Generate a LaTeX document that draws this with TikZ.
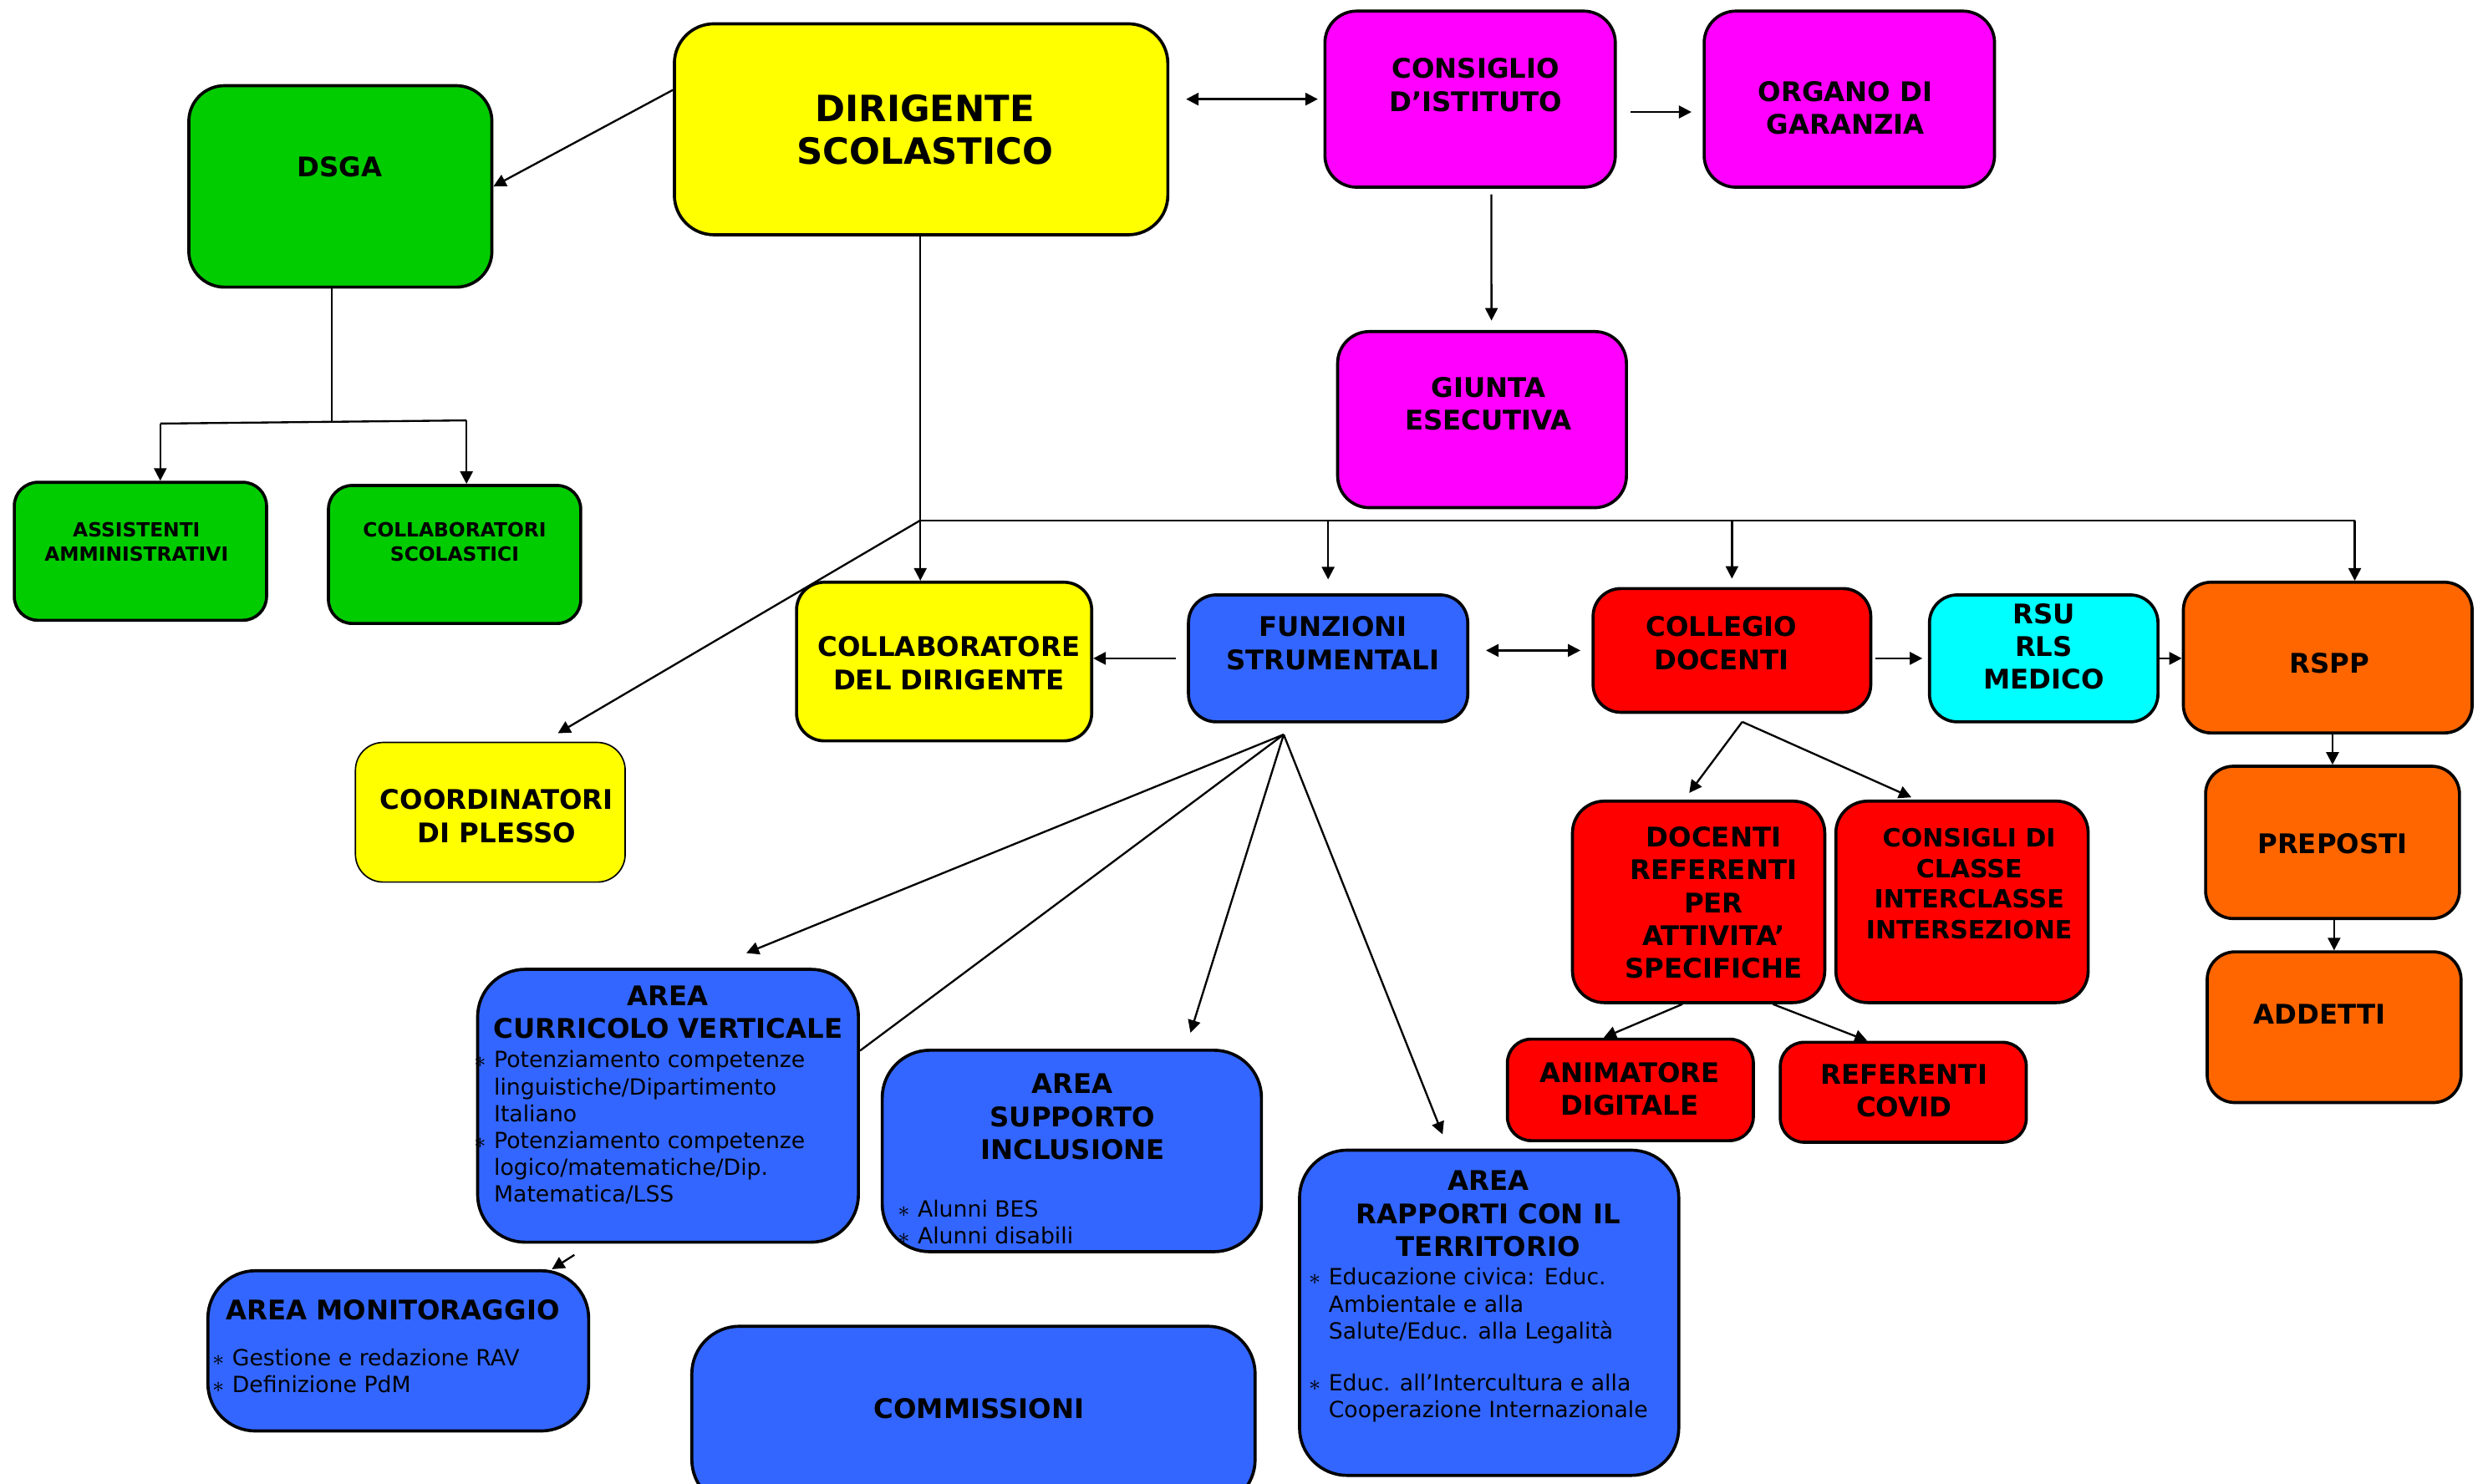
\documentclass[tikz,border=0pt]{standalone}
\usepackage{fontspec}
\setmainfont{DejaVu Sans}
\usepackage{xcolor}
\usepackage{tikz}
\usetikzlibrary{arrows.meta,fit}
\definecolor{yel}{HTML}{FFFF00}
\definecolor{grn}{HTML}{00CC00}
\definecolor{mag}{HTML}{FF00FF}
\definecolor{blu}{HTML}{3366FF}
\definecolor{rd}{HTML}{FF0000}
\definecolor{cya}{HTML}{00FFFF}
\definecolor{ora}{HTML}{FF6600}
\newcommand{\bstar}{\llap{$\ast$\hspace{0.1cm}}}

\begin{document}
\begin{tikzpicture}[x=0.02cm,y=-0.02cm,
    box/.style={draw=black,line width=1.1pt,rounded corners=0.35cm,inner sep=0pt},
    lbl/.style={inner sep=0pt,align=center,font=\bfseries\fontsize{9.7}{11.8}\selectfont},
    big/.style={lbl,font=\bfseries\fontsize{13}{15.3}\selectfont},
    sml/.style={lbl,font=\bfseries\fontsize{7}{8.5}\selectfont},
    itm/.style={inner sep=0pt,align=left,anchor=north west,font=\fontsize{8}{9.65}\selectfont},
    conn/.style={line width=0.7pt},
    arr/.style={conn,-{Triangle[length=4.5pt,width=4.5pt]}},
    darr/.style={conn,{Triangle[length=4.5pt,width=4.5pt]}-{Triangle[length=4.5pt,width=4.5pt]}}]
    \useasboundingbox (0,0) rectangle (1568,935);
    \node [box,fill=yel,rounded corners=0.5cm,fit={(425,15) (736,148)}] (dir) {};
    \node [box,fill=grn,rounded corners=0.45cm,fit={(119,54) (310,181)}] (dsga) {};
    \node [box,fill=mag,rounded corners=0.4cm,fit={(835,7) (1018,118)}] (cons) {};
    \node [box,fill=mag,rounded corners=0.4cm,fit={(1074,7) (1257,118)}] (org) {};
    \node [box,fill=mag,rounded corners=0.4cm,fit={(843,209) (1025,320)}] (giunta) {};
    \node [box,fill=grn,rounded corners=0.3cm,fit={(9,304) (168,391)}] (assist) {};
    \node [box,fill=grn,rounded corners=0.3cm,fit={(207,306) (366,393)}] (collsc) {};
    \node [box,fill=yel,fit={(502,367) (688,467)}] (colldir) {};
    \node [box,fill=blu,fit={(749,375) (925,455)}] (funz) {};
    \node [box,fill=rd,fit={(1004,371) (1179,449)}] (collegio) {};
    \node [box,fill=cya,fit={(1216,375) (1360,455)}] (rsu) {};
    \node [box,fill=ora,fit={(1376,367) (1558,462)}] (rspp) {};
    \node [box,fill=yel,line width=0.5pt,fit={(224,468) (394,556)}] (coord) {};
    \node [box,fill=rd,rounded corners=0.4cm,fit={(991,505) (1150,632)}] (docref) {};
    \node [box,fill=rd,rounded corners=0.4cm,fit={(1157,505) (1316,632)}] (consigli) {};
    \node [box,fill=ora,fit={(1390,483) (1550,579)}] (prep) {};
    \node [box,fill=ora,fit={(1391,600) (1551,695)}] (addetti) {};
    \node [box,fill=rd,rounded corners=0.3cm,fit={(950,655) (1105,719)}] (anim) {};
    \node [box,fill=rd,rounded corners=0.3cm,fit={(1122,657) (1277,720)}] (covid) {};
    \node [box,fill=blu,rounded corners=0.6cm,fit={(301,611) (541,783)}] (curr) {};
    \node [box,fill=blu,rounded corners=0.6cm,fit={(556,662) (795,789)}] (supp) {};
    \node [box,fill=blu,rounded corners=0.6cm,fit={(819,725) (1058,930)}] (rapp) {};
    \node [box,fill=blu,rounded corners=0.6cm,fit={(131,801) (371,902)}] (mon) {};
    \node [box,fill=blu,rounded corners=0.6cm,fit={(436,836) (791,950)}] (comm) {};

    \node [big] (dir-t) at (583,82) {DIRIGENTE\\SCOLASTICO};
    \node [lbl] (dsga-t) at (214,105) {DSGA};
    \node [lbl] (cons-t) at (930,53.5) {CONSIGLIO\\D’ISTITUTO};
    \node [lbl] (org-t) at (1163,68) {ORGANO DI\\GARANZIA};
    \node [lbl] (giunta-t) at (938,254.5) {GIUNTA\\ESECUTIVA};
    \node [sml] (assist-t) at (86,341.5) {ASSISTENTI\\AMMINISTRATIVI};
    \node [sml] (collsc-t) at (286.5,341.5) {COLLABORATORI\\SCOLASTICI};
    \node [lbl] (colldir-t) at (598,418) {COLLABORATORE\\DEL DIRIGENTE};
    \node [lbl] (funz-t) at (840,405.5) {FUNZIONI\\STRUMENTALI};
    \node [lbl] (collegio-t) at (1085,405.5) {COLLEGIO\\DOCENTI};
    \node [lbl] (rsu-t) at (1288,407.5) {RSU\\RLS\\MEDICO};
    \node [lbl] (rspp-t) at (1468,418) {RSPP};
    \node [lbl] (coord-t) at (313,514.5) {COORDINATORI\\DI PLESSO};
    \node [lbl] (docref-t) at (1080,569) {DOCENTI\\REFERENTI\\PER\\ATTIVITA’\\SPECIFICHE};
    \node [lbl,font=\bfseries\fontsize{9}{11}\selectfont] (consigli-t) at (1241,557) {CONSIGLI DI\\CLASSE\\INTERCLASSE\\INTERSEZIONE};
    \node [lbl] (prep-t) at (1470,532) {PREPOSTI};
    \node [lbl] (addetti-t) at (1462,639) {ADDETTI};
    \node [lbl] (anim-t) at (1027,686.5) {ANIMATORE\\DIGITALE};
    \node [lbl] (covid-t) at (1200,687.5) {REFERENTI\\COVID};
    \node [lbl] (curr-t) at (421,638) {AREA\\CURRICOLO VERTICALE};
    \node [itm] (curr-b) at (311,662) {\bstar Potenziamento competenze\\linguistiche/Dipartimento\\Italiano\\\bstar Potenziamento competenze\\logico/matematiche/Dip.\\Matematica/LSS};
    \node [lbl] (supp-t) at (676,704) {AREA\\SUPPORTO\\INCLUSIONE};
    \node [itm] (supp-b) at (578,756) {\bstar Alunni BES\\\bstar Alunni disabili};
    \node [lbl] (rapp-t) at (938,765) {AREA\\RAPPORTI CON IL\\TERRITORIO};
    \node [itm] (rapp-b) at (837,799) {\bstar Educazione civica: Educ.\\Ambientale e alla\\Salute/Educ. alla Legalità\\[9pt]\bstar Educ. all’Intercultura e alla\\Cooperazione Internazionale};
    \node [lbl] (mon-t) at (247.5,825.5) {AREA MONITORAGGIO};
    \node [itm] (mon-b) at (146,850) {\bstar Gestione e redazione RAV\\\bstar Definizione PdM};
    \node [lbl] (comm-t) at (617,888) {COMMISSIONI};

    \coordinate (dsgaJ) at (209,266);
    \coordinate (dsgaL) at (101,267);
    \coordinate (dsgaR) at (294,265);
    \coordinate (bus) at (580,328);
    \coordinate (busE) at (1484,328);
    \coordinate (collF) at (1098,455);
    \coordinate (funzF) at (809,463);
    \coordinate (monS) at (362,791);

    \draw [arr] (dir.171) -- (dsga.east);
    \draw [darr,shorten <=6pt,shorten >=2pt] (dir.east |- cons.west) -- (cons.west);
    \draw [arr,shorten <=5pt,shorten >=4pt] (cons.-5) -- (org.west |- cons.-5);
    \draw [arr,shorten <=2pt,shorten >=3.4pt] ([xshift=7.6pt]cons.south) -- ([xshift=3.4pt]giunta.north);
    \draw [conn] (dsga.south -| dsgaJ) -- (dsgaJ);
    \draw [conn] (dsgaL) -- (dsgaR);
    \draw [arr] (dsgaL) -- (dsgaL |- assist.north);
    \draw [arr] (dsgaR) -- (dsgaR |- collsc.north);
    \draw [conn] (bus |- dir.south) -- (bus) -- (busE);
    \draw [arr] (bus) -- (bus |- colldir.north);
    \draw [arr,shorten >=5pt] (funz.north |- bus) -- (funz.north);
    \draw [arr,shorten >=3pt] (collegio.north |- bus) -- (collegio.north);
    \draw [arr] (busE) -- (busE |- rspp.north);
    \draw [arr,shorten >=6pt] (bus) -- (coord.53);
    \draw [arr,shorten <=4pt] (funz.west) -- (funz.west -| colldir.east);
    \draw [darr,shorten <=6pt,shorten >=4pt] (funz.east |- collegio.west) -- (collegio.west);
    \draw [arr,shorten <=1pt,shorten >=2pt] (collegio.east |- rsu.west) -- (rsu.west);
    \draw [arr] (rsu.east) -- (rsu.east -| rspp.west);
    \draw [arr,shorten >=3pt] (collF) -- (docref.98);
    \draw [arr,shorten >=2pt] (collF) -- (consigli.114);
    \draw [arr] (prep.north |- rspp.south) -- (prep.north);
    \draw [arr] (addetti.north |- prep.south) -- (addetti.north);
    \draw [arr] (docref.261) -- (anim.117);
    \draw [arr] (docref.-54) -- (covid.125);
    \draw [arr,shorten >=14pt] (funzF) -- (curr.73);
    \draw [conn] (funzF) -- (curr.16);
    \draw [arr,shorten >=6pt] (funzF) -- (supp.42);
    \draw [arr,shorten >=5.5pt] (funzF) -- (rapp.104);
    \draw [arr] (monS) -- (mon.28);
\end{tikzpicture}
\end{document}
